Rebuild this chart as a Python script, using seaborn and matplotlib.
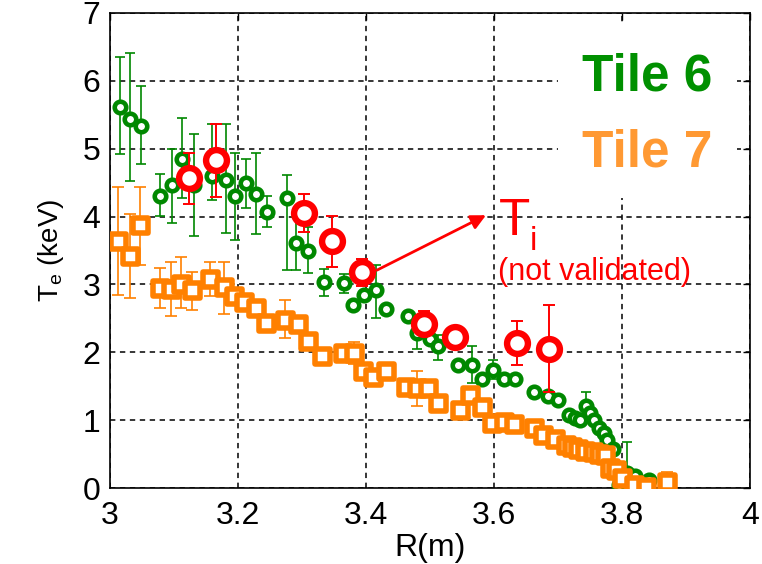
import numpy as np
import matplotlib
matplotlib.use("Agg")
import matplotlib.pyplot as plt
from matplotlib.patches import Rectangle
import seaborn as sns

# ---------------- data ----------------
# Tile 6 (green circles): R, Te, lower / upper error limits
g_r = [3.015, 3.031, 3.049, 3.078, 3.097, 3.112, 3.132, 3.160, 3.181, 3.196,
       3.212, 3.228, 3.245, 3.276, 3.290, 3.309, 3.334, 3.365, 3.379, 3.397,
       3.416, 3.432, 3.465, 3.480, 3.500, 3.513, 3.544, 3.565, 3.581, 3.599,
       3.616, 3.633, 3.663, 3.685, 3.700, 3.717, 3.727, 3.735, 3.743, 3.750,
       3.756, 3.764, 3.772, 3.777, 3.786, 3.795, 3.808, 3.821, 3.842, 3.871]
g_te = [5.62, 5.44, 5.34, 4.31, 4.46, 4.85, 4.46, 4.60, 4.54, 4.31,
        4.50, 4.33, 4.07, 4.28, 3.61, 3.49, 3.03, 3.02, 2.70, 2.85,
        2.92, 2.64, 2.53, 2.28, 2.19, 2.09, 1.82, 1.82, 1.60, 1.74,
        1.61, 1.60, 1.42, 1.35, 1.30, 1.08, 1.03, 1.00, 1.21, 1.10,
        1.00, 0.88, 0.81, 0.71, 0.58, 0.04, 0.22, 0.17, 0.12, 0.00]
g_lo = [4.92, 4.52, 4.77, 4.01, 3.91, 4.28, 3.71, 4.25, 3.76, 3.66,
        4.13, 3.74, 3.85, 3.22, 3.22, 3.17, 2.83, 2.88, 2.70, 2.85,
        2.51, 2.64, 2.53, 2.05, 2.19, 1.89, 1.82, 1.55, 1.60, 1.60,
        1.61, 1.60, 1.42, 1.35, 1.30, 1.08, 1.03, 1.00, 1.00, 1.10,
        1.00, 0.88, 0.81, 0.71, 0.58, 0.04, 0.00, 0.17, 0.12, 0.00]
g_hi = [6.35, 6.41, 5.93, 4.63, 4.99, 5.45, 5.21, 5.36, 5.36, 4.94,
        4.85, 4.94, 4.31, 4.62, 4.00, 3.84, 3.23, 3.16, 2.70, 2.85,
        3.29, 2.64, 2.53, 2.50, 2.19, 2.25, 1.82, 2.10, 1.60, 1.89,
        1.61, 1.60, 1.42, 1.35, 1.30, 1.08, 1.03, 1.00, 1.42, 1.10,
        1.00, 0.88, 0.81, 0.71, 0.58, 0.04, 0.68, 0.17, 0.12, 0.00]

# Tile 7 (orange squares)
o_r = [3.013, 3.031, 3.047, 3.078, 3.095, 3.111, 3.128, 3.157, 3.178, 3.193,
       3.209, 3.228, 3.244, 3.274, 3.293, 3.309, 3.332, 3.364, 3.382, 3.395,
       3.411, 3.432, 3.463, 3.479, 3.497, 3.513, 3.547, 3.563, 3.581, 3.597,
       3.615, 3.631, 3.663, 3.676, 3.696, 3.712, 3.722, 3.732, 3.742, 3.754,
       3.764, 3.774, 3.782, 3.790, 3.800, 3.819, 3.837, 3.871]
o_te = [3.64, 3.42, 3.87, 2.95, 2.94, 3.00, 2.92, 3.08, 2.96, 2.83,
        2.74, 2.65, 2.43, 2.47, 2.42, 2.16, 1.94, 1.99, 1.99, 1.72,
        1.64, 1.72, 1.49, 1.47, 1.47, 1.25, 1.15, 1.37, 1.20, 0.96,
        0.98, 0.95, 0.89, 0.78, 0.72, 0.64, 0.60, 0.57, 0.55, 0.53,
        0.50, 0.48, 0.30, 0.27, 0.15, 0.04, 0.02, 0.09]
o_lo = [2.85, 2.80, 3.28, 2.65, 2.53, 2.66, 2.62, 2.83, 2.56, 2.83,
        2.74, 2.65, 2.43, 2.21, 2.42, 2.16, 1.94, 1.99, 1.83, 1.72,
        1.64, 1.72, 1.49, 1.21, 1.47, 1.25, 1.15, 1.37, 1.20, 0.96,
        0.98, 0.95, 0.89, 0.78, 0.72, 0.64, 0.60, 0.57, 0.55, 0.53,
        0.50, 0.48, 0.30, 0.27, 0.15, 0.04, 0.02, 0.00]
o_hi = [4.43, 4.04, 4.43, 3.24, 3.33, 3.41, 3.19, 3.33, 3.33, 2.83,
        2.74, 2.65, 2.43, 2.77, 2.42, 2.16, 1.94, 1.99, 2.15, 1.72,
        1.64, 1.72, 1.49, 1.73, 1.47, 1.25, 1.15, 1.37, 1.20, 0.96,
        0.98, 0.95, 0.89, 0.78, 0.72, 0.64, 0.60, 0.57, 0.55, 0.53,
        0.50, 0.48, 0.30, 0.27, 0.15, 0.04, 0.02, 0.24]

# Ti (red circles, not validated)
ti_r = [3.123, 3.165, 3.303, 3.347, 3.394, 3.491, 3.539, 3.636, 3.686]
ti_t = [4.57, 4.84, 4.05, 3.64, 3.18, 2.42, 2.23, 2.14, 2.05]
ti_lo = [4.18, 4.29, 3.78, 3.26, 2.97, 2.25, 2.15, 1.82, 1.42]
ti_hi = [4.94, 5.36, 4.33, 4.01, 3.37, 2.61, 2.33, 2.46, 2.70]

x_ticks = [3, 3.2, 3.4, 3.6, 3.8, 4]
x_ticklabels = ["3", "3.2", "3.4", "3.6", "3.8", "4"]
y_ticks = [0, 1, 2, 3, 4, 5, 6, 7]

GREEN = "#008800"
ORANGE = "#FF8000"
RED = "#FF0000"

# ---------------- style ----------------
sns.set_style("white")
plt.rcParams["font.family"] = ["Liberation Sans", "DejaVu Sans"]
plt.rcParams["mathtext.fontset"] = "custom"
plt.rcParams["mathtext.rm"] = "Liberation Sans"
plt.rcParams["text.color"] = "black"
plt.rcParams["axes.labelcolor"] = "black"

fig = plt.figure(figsize=(7.62, 5.64), dpi=100)
ax = fig.add_axes([110 / 762, 76 / 564, 640 / 762, 475 / 564])


def err(y, lo, hi):
    y = np.asarray(y); lo = np.asarray(lo); hi = np.asarray(hi)
    return np.vstack([y - lo, hi - y])


# Green (Tile 6)
ax.errorbar(g_r, g_te, yerr=err(g_te, g_lo, g_hi), fmt="none", ecolor=GREEN,
            elinewidth=1.2, capsize=3.6, capthick=1.2, zorder=2)
sns.scatterplot(x=g_r, y=g_te, marker="o", s=8.3 ** 2, color="white",
                edgecolor=GREEN, linewidth=3.3, ax=ax, zorder=3)

# Orange (Tile 7)
ax.errorbar(o_r, o_te, yerr=err(o_te, o_lo, o_hi), fmt="none", ecolor=ORANGE,
            elinewidth=1.2, capsize=4.3, capthick=1.2, zorder=4)
sns.scatterplot(x=o_r, y=o_te, marker="s", s=10.8 ** 2, color="white",
                edgecolor=ORANGE, linewidth=4.0, ax=ax, zorder=5)

# Red (Ti)
ax.errorbar(ti_r, ti_t, yerr=err(ti_t, ti_lo, ti_hi), fmt="none", ecolor=RED,
            elinewidth=1.4, capsize=4.3, capthick=1.4, zorder=6)
sns.scatterplot(x=ti_r, y=ti_t, marker="o", s=15 ** 2, color="white",
                edgecolor=RED, linewidth=4.6, ax=ax, zorder=7)

# axes
ax.set_xlim(3, 4)
ax.set_ylim(0, 7)
ax.set_xticks(x_ticks)
ax.set_xticklabels(x_ticklabels)
ax.set_yticks(y_ticks)
ax.tick_params(direction="in", length=5, width=1.0, top=True, right=True,
               labelsize=23, colors="black")
ax.tick_params(axis="x", pad=9)
ax.tick_params(axis="y", pad=7)
for s in ax.spines.values():
    s.set_visible(True)
    s.set_color("black")
    s.set_linewidth(1.2)
ax.set_axisbelow(True)
ax.grid(True, color="black", linestyle=(0, (3.5, 3.0)), linewidth=1.1)

ax.set_xlabel("R(m)", fontsize=23, labelpad=2, color="black")
ax.set_ylabel(r"T$_\mathregular{e}$ (keV)", fontsize=20, labelpad=12, color="black")

# white box behind the legend text
ax.add_patch(Rectangle((3.70, 4.27), 0.28, 2.60, facecolor="white",
                       edgecolor="none", zorder=1))
ax.text(3.839, 6.06, "Tile 6", color="#009000", fontsize=37, fontweight="bold",
        ha="center", va="center", zorder=8)
ax.text(3.839, 4.94, "Tile 7", color="#FF9933", fontsize=37, fontweight="bold",
        ha="center", va="center", zorder=8)

# Ti annotation
ax.annotate("", xy=(3.5875, 4.02), xytext=(3.417, 3.21),
            arrowprops=dict(arrowstyle="-|>", color=RED, lw=2.0,
                            mutation_scale=22, shrinkA=0, shrinkB=0),
            zorder=8)
ax.text(3.607, 3.73, "T", color=RED, fontsize=37, ha="left", va="baseline", zorder=8)
ax.text(3.656, 3.51, "i", color=RED, fontsize=24, ha="left", va="baseline", zorder=8)
ax.text(3.607, 3.18, "(not validated)", color=RED, fontsize=22, ha="left",
        va="center", zorder=8)

fig.savefig("out.png", dpi=100)
